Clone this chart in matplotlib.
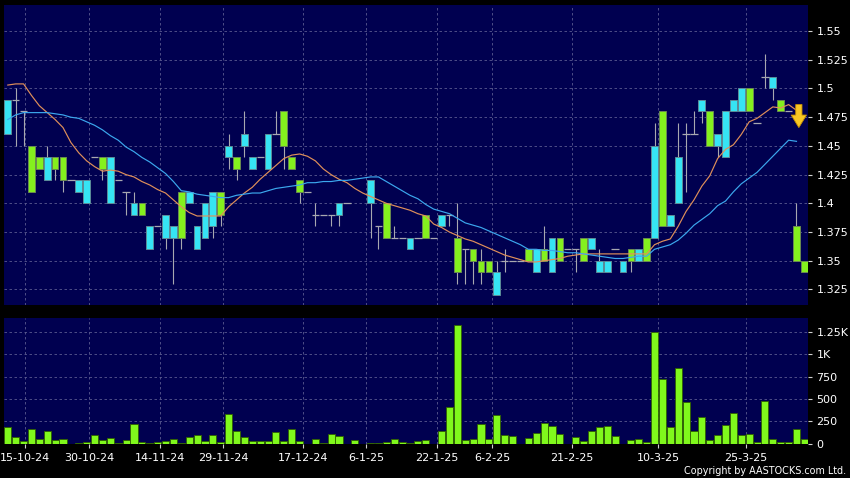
import numpy as np
import matplotlib
matplotlib.use('Agg')
from matplotlib import pyplot as plt

nan = np.nan

# daily OHLC (cyan = up, green = down, grey dash = open == close)
opens = [1.46, 1.49, 1.48, 1.45, 1.44, 1.42, 1.44, 1.44, 1.42, 1.41,
         1.40, 1.44, 1.44, 1.40, 1.42, 1.41, 1.39, 1.40, 1.36, 1.38,
         1.37, 1.37, 1.41, 1.40, 1.36, 1.37, 1.38, 1.41, 1.44, 1.44,
         1.45, 1.43, 1.44, 1.43, 1.46, 1.48, 1.44, 1.42, 1.41, 1.39,
         1.39, 1.39, 1.39, 1.40, nan, nan, 1.40, 1.38, 1.40, 1.37,
         1.37, 1.36, 1.37, 1.39, 1.37, 1.38, 1.39, 1.37, 1.36, 1.36,
         1.35, 1.35, 1.32, 1.35, 1.35, 1.35, 1.36, 1.34, 1.36, 1.34,
         1.37, 1.36, 1.36, 1.37, 1.36, 1.34, 1.34, 1.36, 1.34, 1.36,
         1.35, 1.37, 1.37, 1.48, 1.38, 1.40, 1.46, 1.46, 1.48, 1.48,
         1.45, 1.44, 1.48, 1.48, 1.50, 1.47, 1.51, 1.50, 1.49, 1.48,
         1.38, 1.35]
highs = [1.49, 1.50, 1.48, 1.45, 1.44, 1.45, 1.44, 1.44, 1.42, 1.42,
         1.42, 1.44, 1.44, 1.44, 1.42, 1.41, 1.41, 1.40, 1.38, 1.38,
         1.39, 1.38, 1.41, 1.41, 1.38, 1.40, 1.41, 1.41, 1.46, 1.44,
         1.48, 1.44, 1.44, 1.46, 1.48, 1.48, 1.44, 1.42, 1.41, 1.40,
         1.39, 1.39, 1.40, 1.40, nan, nan, 1.42, 1.38, 1.40, 1.38,
         1.37, 1.37, 1.37, 1.39, 1.37, 1.39, 1.39, 1.40, 1.36, 1.36,
         1.36, 1.35, 1.35, 1.36, 1.35, 1.35, 1.36, 1.36, 1.38, 1.37,
         1.37, 1.36, 1.36, 1.37, 1.37, 1.36, 1.35, 1.36, 1.35, 1.36,
         1.36, 1.37, 1.47, 1.48, 1.39, 1.47, 1.47, 1.48, 1.49, 1.48,
         1.46, 1.48, 1.49, 1.50, 1.50, 1.47, 1.53, 1.51, 1.49, 1.48,
         1.40, 1.35]
lows = [1.46, 1.45, 1.45, 1.41, 1.43, 1.42, 1.42, 1.41, 1.42, 1.41,
        1.40, 1.44, 1.42, 1.40, 1.42, 1.39, 1.39, 1.39, 1.36, 1.38,
        1.36, 1.33, 1.36, 1.40, 1.36, 1.37, 1.37, 1.38, 1.43, 1.42,
        1.44, 1.43, 1.44, 1.43, 1.46, 1.43, 1.43, 1.40, 1.41, 1.38,
        1.39, 1.38, 1.38, 1.40, nan, nan, 1.37, 1.36, 1.37, 1.37,
        1.37, 1.36, 1.37, 1.37, 1.37, 1.38, 1.38, 1.33, 1.33, 1.33,
        1.33, 1.34, 1.32, 1.34, 1.35, 1.35, 1.35, 1.34, 1.35, 1.34,
        1.35, 1.36, 1.34, 1.35, 1.36, 1.34, 1.34, 1.36, 1.34, 1.34,
        1.35, 1.35, 1.37, 1.38, 1.38, 1.40, 1.41, 1.46, 1.47, 1.45,
        1.44, 1.44, 1.48, 1.48, 1.48, 1.47, 1.50, 1.49, 1.48, 1.48,
        1.35, 1.34]
closes = [1.49, 1.49, 1.48, 1.41, 1.43, 1.44, 1.43, 1.42, 1.42, 1.42,
          1.42, 1.44, 1.43, 1.44, 1.42, 1.41, 1.40, 1.39, 1.38, 1.38,
          1.39, 1.38, 1.37, 1.41, 1.38, 1.40, 1.41, 1.39, 1.45, 1.43,
          1.46, 1.44, 1.44, 1.46, 1.46, 1.45, 1.43, 1.41, 1.41, 1.39,
          1.39, 1.39, 1.40, 1.40, nan, nan, 1.42, 1.38, 1.37, 1.37,
          1.37, 1.37, 1.37, 1.37, 1.37, 1.39, 1.39, 1.34, 1.36, 1.35,
          1.34, 1.34, 1.34, 1.35, 1.35, 1.35, 1.35, 1.36, 1.35, 1.37,
          1.35, 1.36, 1.36, 1.35, 1.37, 1.35, 1.35, 1.36, 1.35, 1.35,
          1.36, 1.35, 1.45, 1.38, 1.39, 1.44, 1.46, 1.46, 1.49, 1.45,
          1.46, 1.48, 1.49, 1.50, 1.48, 1.47, 1.51, 1.51, 1.48, 1.48,
          1.35, 1.34]

# short (orange) and long (blue) moving averages as drawn
ma_short = [1.503, 1.504, 1.504, 1.494, 1.485, 1.479, 1.473, 1.466, 1.453, 1.444,
            1.437, 1.432, 1.428, 1.429, 1.428, 1.425, 1.423, 1.419, 1.416, 1.412,
            1.409, 1.403, 1.397, 1.392, 1.389, 1.389, 1.389, 1.389, 1.397, 1.403,
            1.409, 1.414, 1.421, 1.427, 1.433, 1.439, 1.442, 1.443, 1.441, 1.437,
            1.430, 1.425, 1.421, 1.418, 1.413, 1.409, 1.406, 1.403, 1.400, 1.398,
            1.396, 1.394, 1.391, 1.389, 1.382, 1.379, 1.375, 1.372, 1.369, 1.367,
            1.364, 1.361, 1.358, 1.355, 1.353, 1.351, 1.349, 1.349, 1.350, 1.351,
            1.352, 1.354, 1.355, 1.356, 1.356, 1.356, 1.356, 1.356, 1.356, 1.356,
            1.356, 1.356, 1.364, 1.367, 1.369, 1.380, 1.393, 1.403, 1.415, 1.424,
            1.439, 1.447, 1.451, 1.460, 1.471, 1.474, 1.479, 1.484, 1.483, 1.486,
            1.481, nan]
ma_long = [1.473, 1.477, 1.479, 1.479, 1.479, 1.479, 1.478, 1.477, 1.475, 1.474,
           1.471, 1.468, 1.464, 1.459, 1.455, 1.449, 1.445, 1.440, 1.436, 1.431,
           1.426, 1.419, 1.411, 1.410, 1.408, 1.407, 1.406, 1.405, 1.405, 1.407,
           1.408, 1.409, 1.409, 1.411, 1.413, 1.414, 1.415, 1.416, 1.418, 1.418,
           1.419, 1.419, 1.420, 1.420, 1.421, 1.422, 1.423, 1.423, 1.419, 1.415,
           1.411, 1.407, 1.404, 1.399, 1.395, 1.393, 1.391, 1.387, 1.383, 1.381,
           1.379, 1.376, 1.373, 1.370, 1.367, 1.364, 1.360, 1.360, 1.359, 1.359,
           1.358, 1.357, 1.357, 1.356, 1.355, 1.354, 1.353, 1.352, 1.352, 1.353,
           1.354, 1.354, 1.360, 1.362, 1.364, 1.368, 1.374, 1.381, 1.386, 1.391,
           1.398, 1.402, 1.410, 1.417, 1.422, 1.427, 1.434, 1.441, 1.448, 1.455,
           1.454, nan]

volumes = [180, 71, 23, 165, 56, 137, 36, 56, 0, 5,
           17, 100, 34, 58, 11, 34, 214, 17, 5, 21,
           23, 47, 8, 73, 94, 30, 90, 17, 336, 139,
           71, 25, 25, 25, 124, 23, 161, 26, 0, 49,
           11, 109, 88, 0, 38, 0, 11, 11, 15, 45,
           15, 11, 25, 43, 0, 137, 409, 1330, 38, 56,
           216, 49, 317, 100, 85, 0, 58, 115, 235, 193,
           109, 0, 75, 32, 141, 184, 201, 83, 0, 38,
           49, 17, 1258, 725, 180, 847, 465, 145, 295, 38,
           92, 206, 342, 94, 107, 17, 478, 49, 21, 19,
           167, 49]

date_labels = ['15-10-24', '30-10-24', '14-11-24', '29-11-24', '17-12-24', '6-1-25',
               '22-1-25', '6-2-25', '21-2-25', '10-3-25', '25-3-25']
date_pos = [2.2, 10.3, 19.3, 27.35, 37.4, 45.4, 54.4, 61.4, 71.5, 82.5, 93.6]

price_ticks = [1.325, 1.35, 1.375, 1.4, 1.425, 1.45, 1.475, 1.5, 1.525, 1.55]
price_labels = ['1.325', '1.35', '1.375', '1.4', '1.425', '1.45', '1.475', '1.5', '1.525', '1.55']
vol_ticks = [0, 250, 500, 750, 1000, 1250]
vol_labels = ['0', '250', '500', '750', '1K', '1.25K']

o = np.array(opens, float)
h = np.array(highs, float)
l = np.array(lows, float)
c = np.array(closes, float)
x = np.arange(len(c))
ok = ~np.isnan(c)
up = ok & (c > o)
dn = ok & (c < o)
fl = ok & (c == o)

bg = '#000050'
cyan = '#36e4f4'
green = '#84f01e'
grey = '#a8a8b0'
gridc = '#5a5a90'

fig = plt.figure(figsize=(8.5, 4.78), dpi=100, facecolor='black')
ax = fig.add_axes([4 / 850, 1 - 305 / 478, 804 / 850, 300 / 478])
axv = fig.add_axes([4 / 850, 1 - 443.5 / 478, 804 / 850, 125.5 / 478])

for a in (ax, axv):
    a.set_facecolor(bg)
    for s in a.spines.values():
        s.set_visible(False)
    a.set_xlim(-0.48, 101.46)
    a.set_xticks(date_pos)
    a.grid(True, color=gridc, linestyle=(0, (3, 3)), linewidth=0.6)
    a.set_axisbelow(True)
    a.yaxis.tick_right()
    a.tick_params(axis='y', colors='#d0d0d0', labelcolor='white', direction='out',
                  length=3, pad=3, labelsize=8)

# candles
ax.vlines(x[ok], l[ok], h[ok], color=grey, lw=0.8, zorder=2)
ax.bar(x[up], c[up] - o[up], bottom=o[up], width=0.85, color=cyan,
       edgecolor='#5c8c98', linewidth=0.7, zorder=3)
ax.bar(x[dn], o[dn] - c[dn], bottom=c[dn], width=0.85, color=green,
       edgecolor='#6a8a50', linewidth=0.7, zorder=3)
ax.hlines(c[fl], x[fl] - 0.46, x[fl] + 0.46, color=grey, lw=0.9, zorder=3)

ax.plot(x, ma_short, color='#e0905a', lw=0.85, zorder=4)
ax.plot(x, ma_long, color='#3ca8ee', lw=0.85, zorder=4)

ax.annotate('', xy=(100.3, 1.466), xytext=(100.3, 1.486),
            arrowprops=dict(arrowstyle='simple,head_length=0.9,head_width=1.1,tail_width=0.45',
                            fc='#f8c824', ec='#c89000', lw=0.6, shrinkA=0, shrinkB=0),
            zorder=5)

ax.set_ylim(1.3115, 1.5727)
ax.set_yticks(price_ticks)
ax.set_yticklabels(price_labels)
ax.tick_params(axis='x', bottom=False, labelbottom=False)

# volume
axv.bar(x, volumes, width=0.9, color='#80f81c', edgecolor='#306000', linewidth=0.6, zorder=3)
axv.set_ylim(0, 1410)
axv.set_yticks(vol_ticks)
axv.set_yticklabels(vol_labels)
axv.set_xticklabels(date_labels)
axv.tick_params(axis='x', colors='#d0d0d0', labelcolor='white', direction='out',
                length=3, pad=4, labelsize=8)

fig.text(0.995, 0.004, 'Copyright by AASTOCKS.com Ltd.', ha='right', va='bottom',
         color='white', fontsize=6.9)

fig.savefig('out.png', dpi=100, facecolor='black')
